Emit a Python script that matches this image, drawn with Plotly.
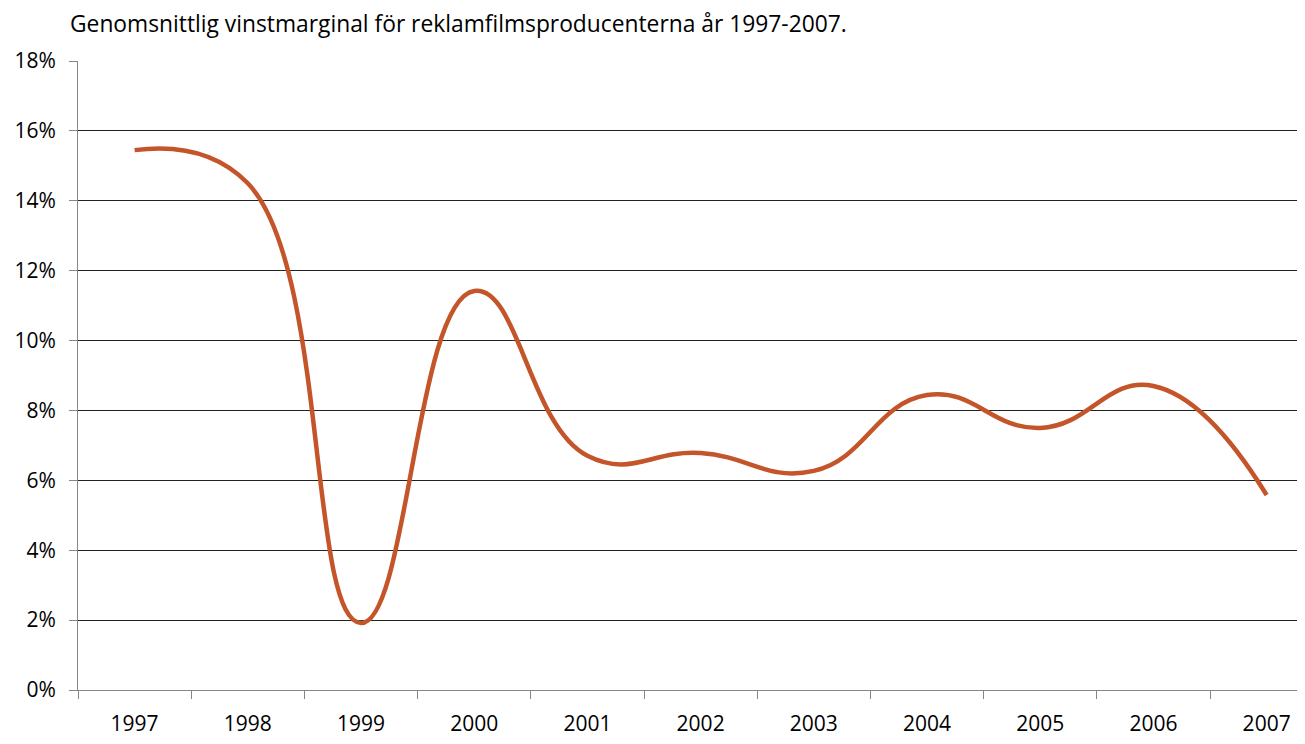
import plotly.graph_objects as go

years = ["1997", "1998", "1999", "2000", "2001", "2002", "2003", "2004", "2005", "2006", "2007"]
margin_pct = [15.45, 14.5, 1.92, 11.42, 6.7, 6.78, 6.27, 8.44, 7.5, 8.7, 5.58]
y_ticks = [0, 2, 4, 6, 8, 10, 12, 14, 16, 18]
y_tick_labels = [f"{v}%" for v in y_ticks]
title_text = "Genomsnittlig vinstmarginal för reklamfilmsproducenterna år 1997-2007."

FONT = "Open Sans"

fig = go.Figure()
fig.add_trace(go.Scatter(
    x=years, y=margin_pct, mode="lines",
    line=dict(color="#C4552A", width=4.5, shape="spline", smoothing=1.3),
    hoverinfo="skip", showlegend=False,
))

# page body has an 8px default margin, so the figure is sized/offset to compensate
fig.update_layout(
    width=1297, height=736,
    margin=dict(l=70, r=1, t=53, b=54),
    paper_bgcolor="white", plot_bgcolor="white",
    font=dict(family=FONT, size=21, color="black"),
    annotations=[dict(
        text=title_text, xref="paper", yref="paper", x=0, xanchor="left",
        xshift=-10, y=1, yshift=20, yanchor="bottom", showarrow=False,
        font=dict(family=FONT, size=22.8, color="black"),
    )],
)
# the reference plot area runs past the right edge of the image (last category cut off)
fig.update_xaxes(
    type="category", tickson="boundaries", ticks="outside", ticklen=8,
    tickcolor="#868686", tickwidth=1, automargin=False,
    showline=True, linecolor="#868686", linewidth=1,
    showgrid=False, range=[-0.5, 10.33],
    tickfont=dict(family=FONT, size=21, color="black"), ticklabelstandoff=15,
)
fig.update_yaxes(
    range=[0, 18], tickmode="array", tickvals=y_ticks, ticktext=y_tick_labels,
    ticks="outside", ticklen=8, tickcolor="#868686", tickwidth=1, automargin=False,
    showline=True, linecolor="#868686", linewidth=1,
    showgrid=True, gridcolor="#222222", gridwidth=1, zeroline=False,
    tickfont=dict(family=FONT, size=21, color="black"), ticklabelstandoff=9,
)

fig.write_html("out.html")
